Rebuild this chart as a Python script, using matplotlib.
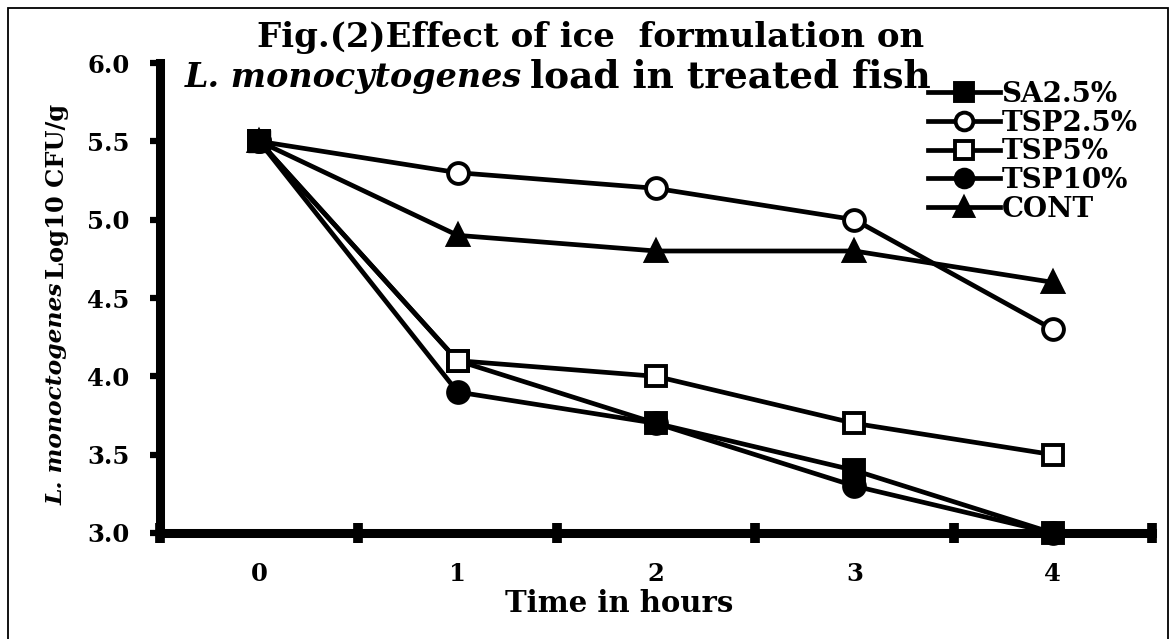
import matplotlib
matplotlib.use("Agg")
import matplotlib.pyplot as plt
from matplotlib.patches import Rectangle

# data
hours       = [0, 1, 2, 3, 4]
hour_labels = ["0", "1", "2", "3", "4"]
sa25   = [5.5, 4.1, 3.7, 3.4, 3.0]
tsp25  = [5.5, 5.3, 5.2, 5.0, 4.3]
tsp5   = [5.5, 4.1, 4.0, 3.7, 3.5]
tsp10  = [5.5, 3.9, 3.7, 3.3, 3.0]
cont   = [5.5, 4.9, 4.8, 4.8, 4.6]
series_names = ["SA2.5%", "TSP2.5%", "TSP5%", "TSP10%", "CONT"]
y_ticks = [3.0, 3.5, 4.0, 4.5, 5.0, 5.5, 6.0]

W, H = 1176, 639
FONT = "DejaVu Serif"

def px(x, y):
    # pixel position -> figure fraction
    return x / W, 1 - y / H

plt.rcParams["font.family"] = FONT
plt.rcParams["font.weight"] = "bold"

fig = plt.figure(figsize=(W / 100, H / 100), dpi=100)
ax = fig.add_axes([160 / W, 1 - 533 / H, (1152 - 160) / W, (533 - 63) / H])

styles = [
    dict(marker="s", mfc="black", ms=15, zorder=3),
    dict(marker="o", mfc="white", ms=15, zorder=4),
    dict(marker="s", mfc="white", ms=15, zorder=5),
    dict(marker="o", mfc="black", ms=15, zorder=6),
    dict(marker="^", mfc="black", ms=15, zorder=7),
]
all_series = [sa25, tsp25, tsp5, tsp10, cont]
handles = []
for vals, name, st in zip(all_series, series_names, styles):
    ln, = ax.plot(hours, vals, color="black", lw=3.4, mec="black", mew=2.8,
                  clip_on=False, label=name, **st)
    handles.append(ln)
# the SA marker sits on top of the others at time 0
ax.plot(hours[:1], sa25[:1], color="black", lw=0, marker="s", mfc="black",
        mec="black", ms=16, zorder=9, clip_on=False)

ax.set_xlim(-0.5, 4.5)
ax.set_ylim(3.0, 6.0)
ax.set_xticks(hours)
ax.set_xticklabels(hour_labels)
ax.set_xticks([h - 0.5 for h in hours] + [hours[-1] + 0.5], minor=True)
ax.set_yticks(y_ticks)
ax.set_yticklabels(["%.1f" % v for v in y_ticks])

for side in ["top", "right"]:
    ax.spines[side].set_visible(False)
for side in ["left", "bottom"]:
    ax.spines[side].set_linewidth(6.5)
    ax.spines[side].set_zorder(2)

ax.tick_params(axis="x", which="major", length=0, pad=21, labelsize=17.5)
ax.tick_params(axis="x", which="minor", direction="inout", length=14, width=7)
ax.tick_params(axis="y", which="major", direction="out", length=7, width=4.5,
               pad=15, labelsize=17.5)
for lab in ax.get_xticklabels() + ax.get_yticklabels():
    lab.set_fontweight("bold")

ax.legend(handles=handles, loc="upper left",
          bbox_to_anchor=px(928, 81), bbox_transform=fig.transFigure,
          frameon=False, fontsize=20, handlelength=2.6, handletextpad=0.05,
          labelspacing=0.06, borderpad=0, borderaxespad=0, markerscale=0.85)

# title, two lines, species name in italics
fig.text(*px(591, 38), "Fig.(2)Effect of ice  formulation on", ha="center",
         va="center", fontsize=24.5, fontweight="bold")
fig.text(*px(522, 77), "L. monocytogenes", ha="right", va="center",
         fontsize=24, fontweight="bold", style="italic")
fig.text(*px(530, 77), "load in treated fish", ha="left", va="center",
         fontsize=27, fontweight="bold")

# y label, also mixed italic / upright
fig.text(*px(57, 283), "L. monoctogenes", ha="right", va="center",
         rotation=90, rotation_mode="anchor", fontsize=16.8,
         fontweight="bold", style="italic")
fig.text(*px(57, 279), "Log10 CFU/g", ha="left", va="center",
         rotation=90, rotation_mode="anchor", fontsize=17.4, fontweight="bold")

fig.text(*px(619, 603), "Time in hours", ha="center", va="center",
         fontsize=21, fontweight="bold")

# outer frame of the figure
x0, y0 = px(8, 8)
x1, _ = px(1168, 8)
fig.patches.append(Rectangle((x0, -0.01), x1 - x0, y0 + 0.01,
                             transform=fig.transFigure, fill=False,
                             edgecolor="black", lw=1.3))

fig.savefig("out.png", dpi=100)
